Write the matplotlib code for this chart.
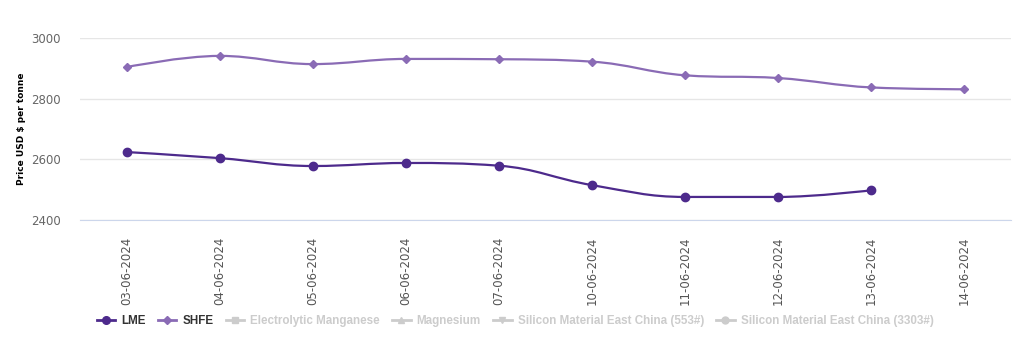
import numpy as np
import matplotlib
matplotlib.use("Agg")
import matplotlib.pyplot as plt
from matplotlib.path import Path
from matplotlib.patches import PathPatch
from matplotlib.lines import Line2D

dates = ["03-06-2024", "04-06-2024", "05-06-2024", "06-06-2024", "07-06-2024",
         "10-06-2024", "11-06-2024", "12-06-2024", "13-06-2024", "14-06-2024"]
lme = [2624, 2604, 2578, 2588, 2579, 2515, 2476, 2476, 2498]
shfe = [2904, 2941, 2914, 2931, 2930, 2922, 2877, 2868, 2837, 2831]

lme_color = "#4d2a8c"
shfe_color = "#8a6bb5"
grey = "#cccccc"


def spline_path(xs, ys, smoothing=1.5):
    # cubic bezier path with the usual "spline" control points
    n = len(xs)
    denom = smoothing + 1
    right = [(xs[0], ys[0])] * n
    left = [(xs[-1], ys[-1])] * n
    for i in range(1, n - 1):
        px, py = xs[i], ys[i]
        lx, ly = xs[i - 1], ys[i - 1]
        nx, ny = xs[i + 1], ys[i + 1]
        lcx = (smoothing * px + lx) / denom
        lcy = (smoothing * py + ly) / denom
        rcx = (smoothing * px + nx) / denom
        rcy = (smoothing * py + ny) / denom
        if rcx != lcx:
            corr = (rcy - lcy) * (rcx - px) / (rcx - lcx) + py - rcy
            lcy += corr
            rcy += corr
        if lcy > ly and lcy > py:
            lcy = max(ly, py)
            rcy = 2 * py - lcy
        elif lcy < ly and lcy < py:
            lcy = min(ly, py)
            rcy = 2 * py - lcy
        if rcy > ny and rcy > py:
            rcy = max(ny, py)
            lcy = 2 * py - rcy
        elif rcy < ny and rcy < py:
            rcy = min(ny, py)
            lcy = 2 * py - rcy
        left[i] = (lcx, lcy)
        right[i] = (rcx, rcy)
    left[-1] = (xs[-1], ys[-1])
    verts = [(xs[0], ys[0])]
    codes = [Path.MOVETO]
    for i in range(1, n):
        verts += [right[i - 1], left[i], (xs[i], ys[i])]
        codes += [Path.CURVE4] * 3
    return Path(verts, codes)


fig = plt.figure(figsize=(10.31, 3.41), dpi=100)
ax = fig.add_axes([80 / 1031, 1 - 220 / 341, 931 / 1031, 182 / 341])

x_lme = np.arange(len(lme))
x_shfe = np.arange(len(shfe))

for xs, ys, c, m, ms in [(x_lme, lme, lme_color, "o", 6), (x_shfe, shfe, shfe_color, "D", 4)]:
    ax.add_patch(PathPatch(spline_path(list(xs), list(ys)), facecolor="none",
                           edgecolor=c, lw=1.6, zorder=3))
    ax.plot(xs, ys, ls="none", marker=m, ms=ms, color=c, zorder=4)

ax.set_xlim(-0.5, len(dates) - 0.5)
ax.set_ylim(2400, 3000)
ax.set_yticks([2400, 2600, 2800, 3000])
ax.set_xticks(range(len(dates)))
ax.set_xticklabels(dates, rotation=90)
ax.tick_params(axis="x", length=0, pad=12, labelsize=8.5, labelcolor="#555555")
ax.tick_params(axis="y", length=0, pad=14, labelsize=8.5, labelcolor="#666666")
ax.grid(axis="y", color="#e6e6e6", lw=1)
ax.set_axisbelow(True)
for s in ["top", "right", "left"]:
    ax.spines[s].set_visible(False)
ax.spines["bottom"].set_color("#ccd6eb")

fig.text(22 / 1031, 1 - 129 / 341, "Price USD $ per tonne", rotation=90,
         ha="center", va="center", fontsize=6.5, fontweight="bold", color="black")

handles = [
    Line2D([], [], color=lme_color, lw=2, marker="o", ms=5.5),
    Line2D([], [], color=shfe_color, lw=2, marker="D", ms=4),
    Line2D([], [], color=grey, lw=2, marker="s", ms=5),
    Line2D([], [], color=grey, lw=2, marker="^", ms=5),
    Line2D([], [], color=grey, lw=2, marker="v", ms=5),
    Line2D([], [], color=grey, lw=2, marker="o", ms=5),
]
names = ["LME", "SHFE", "Electrolytic Manganese", "Magnesium",
         "Silicon Material East China (553#)", "Silicon Material East China (3303#)"]
leg = fig.legend(handles, names, loc="center", bbox_to_anchor=(515 / 1031, 1 - 321 / 341),
                 ncol=6, frameon=False, handlelength=1.6,
                 handletextpad=0.5, columnspacing=1.05,
                 prop={"family": "Liberation Sans", "size": 8.4, "weight": "bold"})
for t, col in zip(leg.get_texts(), ["#333333", "#333333", grey, grey, grey, grey]):
    t.set_color(col)

fig.savefig("out.png", dpi=100)
